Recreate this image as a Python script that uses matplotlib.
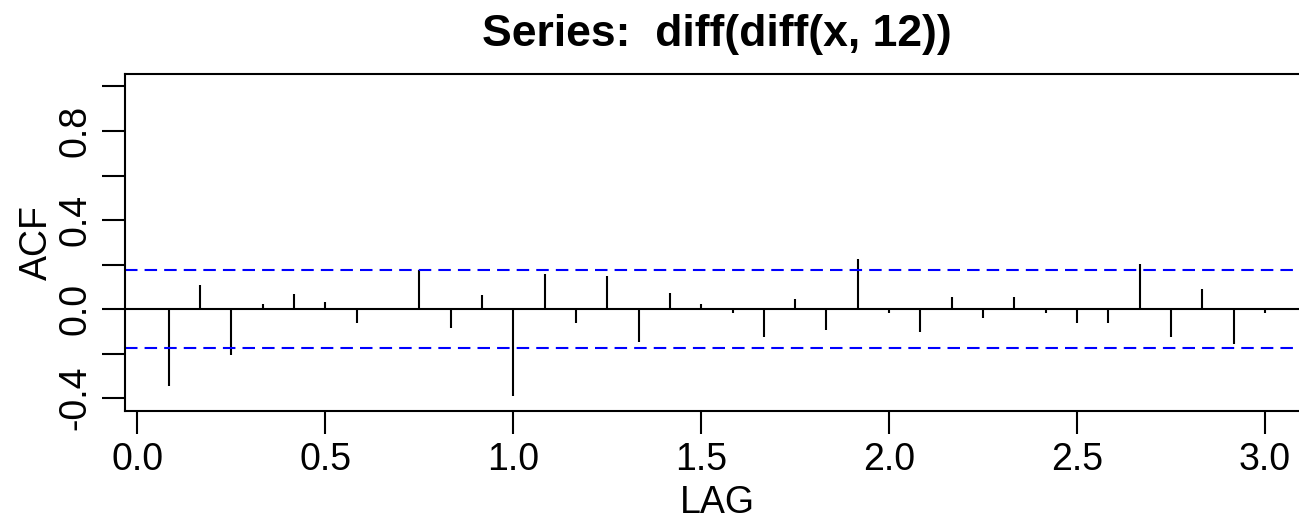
import numpy as np
import matplotlib.pyplot as plt

plt.rcParams['font.family'] = ['Liberation Sans', 'DejaVu Sans']

# ACF de diff(diff(x, 12)), lags en años (k/12)
lags = np.arange(1, 37) / 12
acf_vals = [-0.346, 0.107, -0.208, 0.022, 0.067, 0.034, -0.061, -0.004, 0.178,
            -0.083, 0.065, -0.388, 0.159, -0.061, 0.150, -0.146, 0.074, 0.022,
            -0.019, -0.123, 0.045, -0.094, 0.224, -0.019, -0.104, 0.055, -0.039,
            0.055, -0.019, -0.061, -0.061, 0.203, -0.123, 0.089, -0.156, -0.019]
ci = 0.175

xtick_vals = [0.0, 0.5, 1.0, 1.5, 2.0, 2.5, 3.0]
xtick_labels = ['0.0', '0.5', '1.0', '1.5', '2.0', '2.5', '3.0']
ytick_vals = [-0.4, -0.2, 0.0, 0.2, 0.4, 0.6, 0.8, 1.0]
ytick_labels = ['-0.4', '', '0.0', '', '0.4', '', '0.8', '']

fig = plt.figure(figsize=(12.99, 5.22), dpi=100)
# el recuadro se sale por la derecha, como en la imagen original
ax = fig.add_axes([0.0962, 0.2132, 0.9115, 0.645])

lw = 1.5
dash = (0, (6, 3.4))
ax.vlines(lags, 0, acf_vals, color='black', lw=lw)
ax.axhline(0, color='black', lw=lw)
ax.axhline(ci, color='blue', ls=dash, lw=lw)
ax.axhline(-ci, color='blue', ls=dash, lw=lw)

ax.set_xlim(-0.033, 3.117)
ax.set_ylim(-0.456, 1.056)

for s in ax.spines.values():
    s.set_linewidth(lw)

ax.set_xticks(xtick_vals)
ax.set_xticklabels(xtick_labels, fontsize=27)
ax.set_yticks(ytick_vals)
ax.set_yticklabels(ytick_labels, fontsize=27, rotation=90, va='center')
ax.tick_params(axis='both', direction='out', length=16.5, width=lw, pad=6)

ax.set_xlabel('LAG', fontsize=27, labelpad=5)
ax.set_ylabel('ACF', fontsize=27, labelpad=2)
ax.set_title('Series:  diff(diff(x, 12))', fontsize=32, fontweight='bold', pad=20)

fig.savefig('out.png', dpi=100)
